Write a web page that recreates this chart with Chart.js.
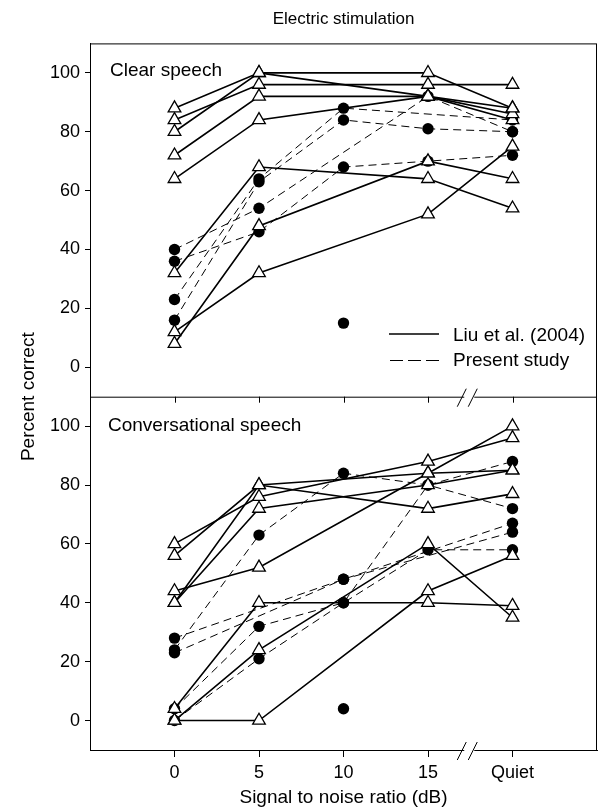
<!DOCTYPE html>
<html>
<head>
<meta charset="utf-8">
<script src="https://cdn.jsdelivr.net/npm/chart.js@4.4.0/dist/chart.umd.min.js"></script>
<style>
  html, body { margin: 0; padding: 0; background: #fff; }
  #wrap { width: 600px; height: 812px; }
</style>
</head>
<body>
<div id="wrap"><canvas id="myChart"></canvas></div>
<script>
// x categories (placed at 0..4 on a linear axis so the break can sit at 3.5)
var snrLabels = ['0', '5', '10', '15', 'Quiet'];
var snrPos = [0, 1, 2, 3, 4];
var yTicks = [0, 20, 40, 60, 80, 100];

// Clear speech - Liu et al. (2004), one row per listener (no 10 dB condition)
var clearLiu = [
  [88, 100, null, 100, 88],
  [84, 96, null, 96, 96],
  [80, 100, null, 92, 86],
  [72, 92, null, 92, 88],
  [64, 84, null, 92, 84],
  [32, 68, null, 64, 54],
  [12, 32, null, 52, 75],
  [8, 48, null, 70, 64]
];
// Clear speech - present study
var clearOurs = [
  [40, 54, null, 92, 80],
  [36, 46, 68, 70, 72],
  [23, 64, 88, null, 84],
  [16, 63, 84, 81, 80],
  [null, null, 15, null, null]
];

// Conversational speech - Liu et al. (2004)
var convLiu = [
  [60, 76, null, 88, 96],
  [56, 80, null, 84, 85],
  [40, 80, null, 72, 77],
  [40, 72, null, 80, 85],
  [44, 52, null, 84, 100],
  [4, 40, null, 40, 39],
  [0, 24, null, 60, 35],
  [0, 0, null, 44, 56]
];
// Conversational speech - present study
var convOurs = [
  [24, 63, 84, 80, 72],
  [28, null, 48, null, 67],
  [23, null, 48, null, 64],
  [4, 32, 40, 80, 88],
  [0, 21, 40, 58, 58],
  [null, null, 4, null, null]
];

var FONT = 'Arial, "Liberation Sans", sans-serif';

function toPts(vals) {
  return vals.map(function (v, i) { return { x: snrPos[i], y: v }; });
}

function liuSet(vals, axis) {
  return {
    data: toPts(vals), yAxisID: axis, order: 1, spanGaps: true, tension: 0,
    borderColor: '#000', borderWidth: 1.6,
    pointStyle: 'triangle', pointRadius: 7.3, pointBorderWidth: 1.3,
    pointBackgroundColor: '#fff', pointBorderColor: '#000'
  };
}

function ourSet(vals, axis) {
  return {
    data: toPts(vals), yAxisID: axis, order: 2, spanGaps: true, tension: 0,
    borderColor: '#000', borderWidth: 1, borderDash: [8, 5],
    pointStyle: 'circle', pointRadius: 5.7, pointBorderWidth: 0,
    pointBackgroundColor: '#000', pointBorderColor: '#000'
  };
}

var datasets = [];
clearLiu.forEach(function (r) { datasets.push(liuSet(r, 'yTop')); });
convLiu.forEach(function (r) { datasets.push(liuSet(r, 'yBot')); });
clearOurs.forEach(function (r) { datasets.push(ourSet(r, 'yTop')); });
convOurs.forEach(function (r) { datasets.push(ourSet(r, 'yBot')); });

function yAxis() {
  return {
    type: 'linear', position: 'left', stack: 'panels', stackWeight: 1,
    min: -10, max: 110,
    afterBuildTicks: function (s) { s.ticks = yTicks.map(function (v) { return { value: v }; }); },
    afterFit: function (s) { s.width = 90; s.paddingTop = 0; s.paddingBottom = 0; },
    ticks: { color: '#000', font: { family: FONT, size: 18 }, padding: 5 },
    grid: { drawOnChartArea: false, drawTicks: true, tickLength: 5, color: '#000' },
    border: { color: '#000', width: 1 }
  };
}

// frame, panel divider, break marks, panel labels, legend, y title
var decor = {
  id: 'decor',
  afterDraw: function (chart) {
    var c = chart.ctx, a = chart.chartArea, sx = chart.scales.x;
    var mid = chart.scales.yTop.bottom;
    c.save();
    c.strokeStyle = '#000';
    c.lineWidth = 1;
    c.strokeRect(a.left + 0.5, a.top + 0.5, a.right - a.left - 1, a.bottom - a.top);
    c.beginPath();
    c.moveTo(a.left, mid + 0.5); c.lineTo(a.right, mid + 0.5);
    snrPos.forEach(function (p) {
      var px = Math.round(sx.getPixelForValue(p)) + 0.5;
      c.moveTo(px, mid); c.lineTo(px, mid + 6);
    });
    c.stroke();

    // axis breaks between 15 dB and Quiet
    var bx = sx.getPixelForValue(3.5);
    [mid, a.bottom].forEach(function (y) {
      c.fillStyle = '#fff';
      c.fillRect(bx - 6, y - 1, 10, 3);
      c.beginPath();
      c.moveTo(bx - 13, y + 10); c.lineTo(bx - 4, y - 8);
      c.moveTo(bx - 2, y + 10); c.lineTo(bx + 7, y - 8);
      c.stroke();
    });

    c.fillStyle = '#000';
    c.font = '19px ' + FONT;
    c.textAlign = 'left';
    c.textBaseline = 'alphabetic';
    c.fillText('Clear speech', a.left + 20, a.top + 33);
    c.fillText('Conversational speech', a.left + 18, mid + 34);

    // legend
    c.beginPath();
    c.lineWidth = 1.6;
    c.moveTo(389, 334); c.lineTo(439, 334);
    c.stroke();
    c.beginPath();
    c.lineWidth = 1;
    c.setLineDash([13, 5]);
    c.moveTo(390, 360.5); c.lineTo(440, 360.5);
    c.stroke();
    c.setLineDash([]);
    c.fillText('Liu et al. (2004)', 453, 341);
    c.fillText('Present study', 453, 366);

    // shared y title
    c.font = '19px ' + FONT;
    c.translate(29, (a.top + a.bottom) / 2);
    c.rotate(-Math.PI / 2);
    c.textAlign = 'center';
    c.textBaseline = 'middle';
    c.fillText('Percent correct', 0, 0);
    c.restore();
  }
};

var ctx = document.getElementById('myChart').getContext('2d');
var myChart = new Chart(ctx, {
  type: 'line',
  data: { datasets: datasets },
  options: {
    responsive: true,
    maintainAspectRatio: false,
    animation: false,
    events: [],
    layout: { autoPadding: false, padding: { top: 9, right: 3, left: 0, bottom: 0 } },
    plugins: {
      legend: { display: false },
      tooltip: { enabled: false },
      title: {
        display: true, fullSize: false, text: 'Electric stimulation', color: '#000',
        font: { family: FONT, size: 17, weight: 'normal' }, padding: { top: 0, bottom: 14 }
      }
    },
    scales: {
      x: {
        type: 'linear', min: -1, max: 5,
        afterBuildTicks: function (s) { s.ticks = snrPos.map(function (v) { return { value: v }; }); },
        afterFit: function (s) { s.height = 62; s.paddingLeft = 0; s.paddingRight = 0; },
        ticks: {
          color: '#000', font: { family: FONT, size: 18 }, padding: 5, maxRotation: 0, autoSkip: false,
          callback: function (v) { return snrLabels[v]; }
        },
        grid: { drawOnChartArea: false, drawTicks: true, tickLength: 7, color: '#000' },
        border: { color: '#000', width: 1 },
        title: { display: true, text: 'Signal to noise ratio (dB)', color: '#000', font: { family: FONT, size: 19 }, padding: { top: 0, bottom: 3 } }
      },
      yBot: yAxis(),
      yTop: yAxis()
    }
  },
  plugins: [decor]
});
</script>
</body>
</html>
